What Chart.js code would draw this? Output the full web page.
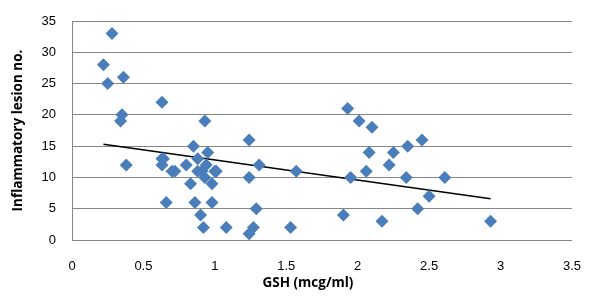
<!DOCTYPE html>
<html lang="en">
<head>
    <meta charset="UTF-8">
    <title>GSH vs Inflammatory lesion</title>
    <script src="https://cdn.jsdelivr.net/npm/chart.js@4.4.1/dist/chart.umd.min.js"></script>
    <style>
        html, body { margin: 0; padding: 0; background: #fff; }
        #wrap { width: 600px; height: 304px; }
    </style>
</head>
<body>
    <div id="wrap"><canvas id="myChart"></canvas></div>

    <script>
        // GSH values (x) and lesion counts (y)
        const gsh = [
            0.22, 0.25, 0.28, 0.34, 0.35, 0.36, 0.38,
            0.63, 0.63, 0.63, 0.64, 0.66, 0.70, 0.72,
            0.80, 0.83, 0.85, 0.86, 0.88, 0.88, 0.90, 0.91, 0.92,
            0.93, 0.93, 0.94, 0.95, 0.98, 0.98, 1.00, 1.01,
            1.08, 1.24, 1.24, 1.24, 1.27, 1.29, 1.31, 1.53, 1.57,
            1.90, 1.93, 1.95, 2.01, 2.06, 2.08, 2.10, 2.17, 2.22,
            2.25, 2.34, 2.35, 2.42, 2.45, 2.50, 2.61, 2.93
        ];
        const lesions = [
            28, 25, 33, 19, 20, 26, 12,
            13, 12, 22, 13, 6, 11, 11,
            12, 9, 15, 6, 13, 11, 4, 11, 2,
            19, 10, 12, 14, 6, 9, 11, 11,
            2, 16, 10, 1, 2, 5, 12, 2, 11,
            4, 21, 10, 19, 11, 14, 18, 3, 12,
            14, 10, 15, 5, 16, 7, 10, 3
        ];

        // Linear trendline end points
        const trendX = [0.22, 2.93];
        const trendY = [15.3, 6.6];

        const xTicks = [0, 0.5, 1, 1.5, 2, 2.5, 3, 3.5];
        const yTicks = [0, 5, 10, 15, 20, 25, 30, 35];

        const points = gsh.map((x, i) => ({ x: x, y: lesions[i] }));
        const trend = trendX.map((x, i) => ({ x: x, y: trendY[i] }));

        const tickFont = { family: 'Liberation Sans', size: 13 };
        const titleFont = { family: 'Open Sans', size: 13.5, weight: 'bold' };

        // the x title sits a little left of the plot centre in the original;
        // trailing blanks push the centred text over
        const xTitle = 'GSH (mcg/ml)' + '\u00A0'.repeat(8);

        new Chart(document.getElementById('myChart'), {
            type: 'scatter',
            data: {
                datasets: [
                    {
                        data: points,
                        pointStyle: 'rectRot',
                        pointRadius: 6.5,
                        pointHoverRadius: 6.5,
                        backgroundColor: '#4A7EBB',
                        borderColor: '#4A7EBB',
                        borderWidth: 0
                    },
                    {
                        type: 'line',
                        data: trend,
                        borderColor: '#000',
                        borderWidth: 1.5,
                        pointRadius: 0,
                        fill: false
                    }
                ]
            },
            options: {
                responsive: true,
                maintainAspectRatio: false,
                animation: false,
                layout: { padding: { top: 21, right: 27, left: 0, bottom: 0 } },
                plugins: { legend: { display: false }, tooltip: { enabled: false } },
                scales: {
                    x: {
                        type: 'linear',
                        min: 0,
                        max: 3.5,
                        afterBuildTicks: s => { s.ticks = xTicks.map(v => ({ value: v })); },
                        afterFit: s => { s.height = 64; },
                        grid: { display: false, drawTicks: false },
                        border: { color: '#868686', width: 1 },
                        ticks: { font: tickFont, color: '#000', padding: 19, maxRotation: 0, callback: v => String(v) },
                        title: {
                            display: true, text: xTitle, font: titleFont, color: '#000',
                            padding: { top: 0, bottom: 13 }
                        }
                    },
                    y: {
                        min: 0,
                        max: 35,
                        afterBuildTicks: s => { s.ticks = yTicks.map(v => ({ value: v })); },
                        // tick padding would otherwise be added above and below the plot
                        afterFit: s => { s.width = 72; s.paddingTop = 0; s.paddingBottom = 0; },
                        grid: { color: '#868686', lineWidth: 1, drawTicks: false },
                        border: { color: '#868686', width: 1 },
                        ticks: { font: tickFont, color: '#000', padding: 16 },
                        title: {
                            display: true, text: 'Inflammatory lesion no.', font: titleFont, color: '#000',
                            padding: { top: 10, bottom: 0 }
                        }
                    }
                }
            }
        });
    </script>
</body>
</html>
